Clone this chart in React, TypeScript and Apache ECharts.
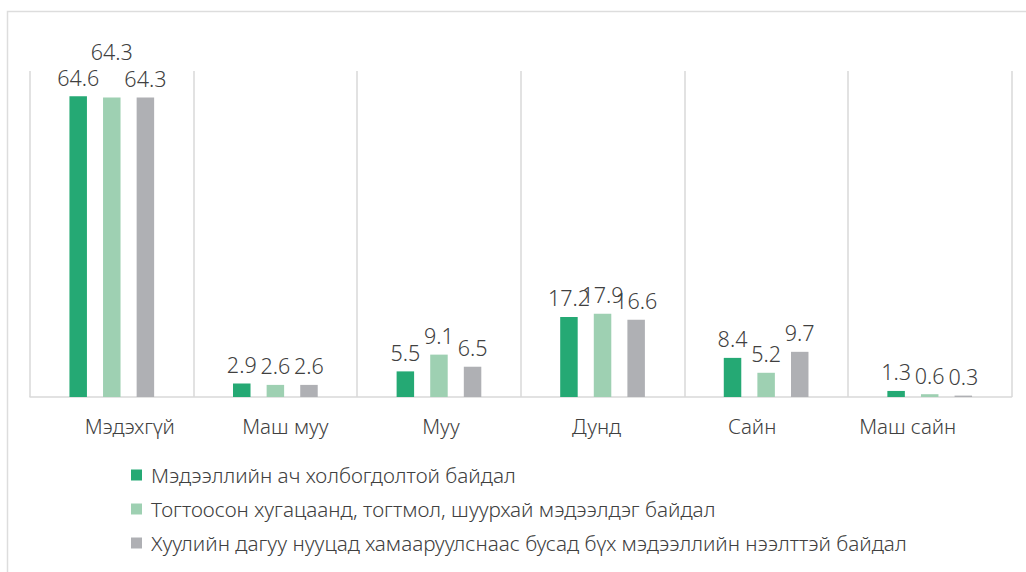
import React, { useEffect, useRef } from "react";
import * as echarts from "echarts";

const categories = ["Мэдэхгүй", "Маш муу", "Муу", "Дунд", "Сайн", "Маш сайн"];
const seriesNames = [
  "Мэдээллийн ач холбогдолтой байдал",
  "Тогтоосон хугацаанд, тогтмол, шуурхай мэдээлдэг байдал",
  "Хуулийн дагуу нууцад хамааруулснаас бусад бүх мэдээллийн нээлттэй байдал",
];
const relevance = [64.6, 2.9, 5.5, 17.2, 8.4, 1.3];
const timeliness = [64.3, 2.6, 9.1, 17.9, 5.2, 0.6];
const openness = [64.3, 2.6, 6.5, 16.6, 9.7, 0.3];
const colors = ["#25A974", "#9ED0B2", "#AFB0B4"];

const FONT = "Noto Sans";
const TEXT = "#404040";
const WEIGHT = 300;

export default function App() {
  const ref = useRef<HTMLDivElement>(null);
  useEffect(() => {
    if (!ref.current) return;
    const chart = echarts.init(ref.current, undefined, { renderer: "svg" });
    const all = [relevance, timeliness, openness];
    chart.setOption({
      animation: false,
      textStyle: { fontFamily: FONT },
      graphic: [
        {
          type: "rect",
          shape: { x: 7.5, y: 11.5, width: 1100, height: 700 },
          style: { fill: "none", stroke: "#DDDDDD", lineWidth: 1.5 },
          silent: true,
        },
      ],
      grid: [
        { left: 30, right: 14.5, top: 71, bottom: 175 },
        { left: 52, right: 40.5, top: 71, bottom: 175 },
      ],
      legend: {
        orient: "vertical",
        left: 126,
        top: 459.5,
        itemWidth: 11,
        itemHeight: 11,
        itemGap: 13,
        icon: "rect",
        textStyle: {
          fontFamily: FONT,
          fontSize: 20.7,
          fontWeight: WEIGHT,
          color: TEXT,
          padding: [0, 0, 0, 4],
        },
        data: seriesNames,
      },
      xAxis: [
        {
          type: "category",
          gridIndex: 0,
          data: categories,
          axisLine: { show: true, lineStyle: { color: "#D9D9D9", width: 1.5 } },
          axisTick: { show: false },
          axisLabel: { show: false },
          splitLine: { show: true, lineStyle: { color: "#D9D9D9", width: 1.5 } },
        },
        {
          type: "category",
          gridIndex: 1,
          data: categories,
          axisLine: { show: false },
          axisTick: { show: false },
          axisLabel: { fontFamily: FONT, fontSize: 20.5, fontWeight: WEIGHT, color: TEXT, margin: 18 },
          splitLine: { show: false },
        },
      ],
      yAxis: [
        { type: "value", gridIndex: 0, min: 0, max: 70, show: false, splitLine: { show: false } },
        { type: "value", gridIndex: 1, min: 0, max: 70, show: false, splitLine: { show: false } },
      ],
      series: all.map((vals, si) => ({
        name: seriesNames[si],
        type: "bar",
        xAxisIndex: 0,
        yAxisIndex: 0,
        barWidth: 17.5,
        barGap: "92%",
        itemStyle: { color: colors[si] },
        label: {
          show: true,
          position: "top",
          distance: 8,
          fontFamily: FONT,
          fontSize: 21.5,
          fontWeight: WEIGHT,
          color: TEXT,
        },
        data: vals.map((v, i) =>
          si === 1 && i === 0 ? { value: v, label: { offset: [0, -27] } } : v
        ),
      })),
    });
    return () => chart.dispose();
  }, []);
  return (
    <div
      ref={ref}
      style={{ position: "fixed", left: 0, top: 0, width: 1026, height: 572, background: "#fff" }}
    />
  );
}
